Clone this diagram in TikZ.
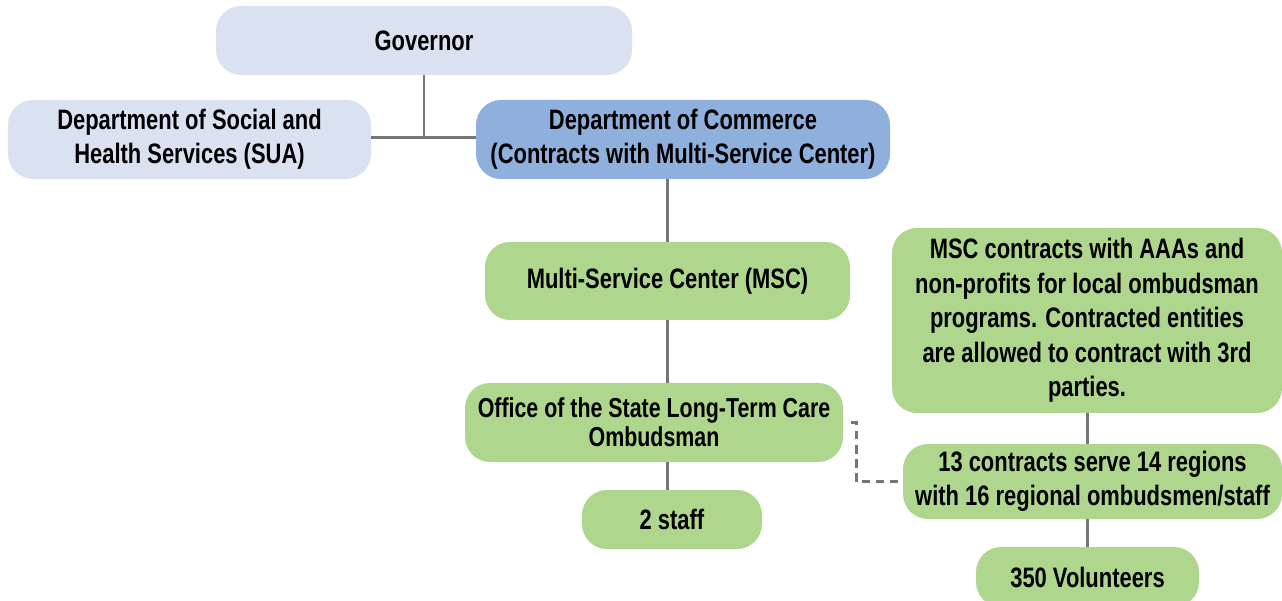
\documentclass[tikz,border=0pt]{standalone}
\usepackage{fontspec}
\setmainfont{Liberation Sans}[FakeStretch=0.78]
\usetikzlibrary{positioning}
\usetikzlibrary{calc}
\definecolor{govblue}{RGB}{218,226,242}
\definecolor{comblue}{RGB}{143,175,220}
\definecolor{boxgreen}{RGB}{174,214,141}
\definecolor{linegray}{RGB}{118,118,118}

\begin{document}
\begin{tikzpicture}[
    box/.style={rounded corners=0.5cm, align=center, inner sep=0pt,
                font=\fontsize{16}{19.6}\selectfont\bfseries},
    lightbox/.style={box, fill=govblue},
    darkbox/.style={box, fill=comblue},
    greenbox/.style={box, fill=boxgreen},
    link/.style={linegray, line width=1.5pt},
    dlink/.style={linegray, line width=1.3pt, dash pattern=on 0.16cm off 0.12cm}
]

%---------------------------------------
% Canvas
%---------------------------------------
\useasboundingbox (0,0) rectangle (25.64,-12.02);

%---------------------------------------
% State level
%---------------------------------------
\node[lightbox, minimum width=8.32cm, minimum height=1.38cm] (gov) at (8.48,-0.81) {Governor};
\node[lightbox, minimum width=7.26cm, minimum height=1.58cm] (sua) at (3.79,-2.79)
    {Department of Social and\\Health Services (SUA)};
\node[darkbox, minimum width=8.28cm, minimum height=1.58cm] (com) at (13.66,-2.79)
    {Department of Commerce\\(Contracts with Multi-Service Center)};

%---------------------------------------
% Multi-Service Center and state office
%---------------------------------------
\node[greenbox, minimum width=7.30cm, minimum height=1.56cm] (msc) at (13.35,-5.62)
    {Multi-Service Center (MSC)};
\node[greenbox, minimum width=7.56cm, minimum height=1.58cm,
      font=\fontsize{15.6}{16.5}\selectfont\bfseries] (office) at (13.08,-8.45)
    {Office of the State Long-Term Care\\Ombudsman};
\node[greenbox, minimum width=3.60cm, minimum height=1.18cm] (staff) at (13.44,-10.39)
    {2 staff};

%---------------------------------------
% Local programs
%---------------------------------------
\node[greenbox, minimum width=7.80cm, minimum height=3.70cm] (local) at (21.74,-6.41)
    {MSC contracts with AAAs and\\non-profits for local ombudsman\\programs. Contracted entities\\are allowed to contract with 3rd\\parties.};
\node[greenbox, minimum width=7.58cm, minimum height=1.50cm] (regions) at (21.85,-9.63)
    {13 contracts serve 14 regions\\with 16 regional ombudsmen/staff};
\node[greenbox, minimum width=4.46cm, minimum height=1.20cm] (vol) at (21.75,-11.54)
    {350 Volunteers};

%---------------------------------------
% Connectors
%---------------------------------------
\coordinate (gj) at ($(gov.south) + (0,-1.24)$);
\draw[link] (gov.south) -- (gj);
\draw[link] (sua.east |- gj) -- (com.west |- gj);
\draw[link] (com.south -| msc.north) -- (msc.north);
\draw[link] (msc.south) -- (msc.south |- office.north);
\draw[link] (office.south -| msc.south) -- (msc.south |- staff.north);
\draw[link] (local.south -| vol.north) -- (regions.north -| vol.north);
\draw[link] (regions.south -| vol.north) -- (vol.north);
\draw[dlink] (office.east) ++(0.16,0) -- ++(0.1,0) |- (regions.west);

\end{tikzpicture}
\end{document}
